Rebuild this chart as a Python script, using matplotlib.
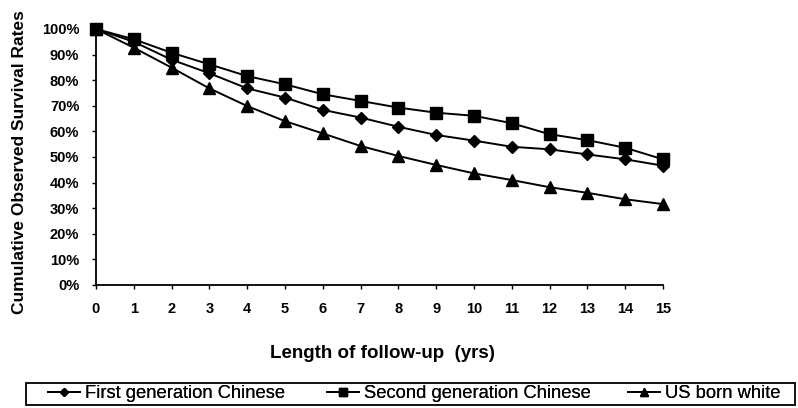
import matplotlib
matplotlib.use("Agg")
import matplotlib.pyplot as plt
from matplotlib.ticker import FuncFormatter
from matplotlib.patches import Rectangle

years = list(range(16))
first_gen = [100, 95, 88, 82.7, 76.8, 73.2, 68.4, 65.4, 61.8, 58.6, 56.4, 54.0, 53.0, 51.0, 49.1, 46.6]
second_gen = [100, 96, 90.7, 86.2, 81.6, 78.4, 74.5, 71.9, 69.3, 67.3, 66.1, 63.2, 58.9, 56.6, 53.6, 49.1]
us_white = [100, 92.7, 84.9, 76.8, 69.9, 64.0, 59.2, 54.3, 50.4, 46.9, 43.6, 41.0, 38.2, 36.0, 33.5, 31.6]
labels = ["First generation Chinese", "Second generation Chinese", "US born white"]

plt.rcParams['font.family'] = ['Liberation Sans', 'DejaVu Sans']

W, H = 798, 408
fig = plt.figure(figsize=(W/100, H/100), dpi=100)
ax = fig.add_axes([96/W, 1-285/H, (663-96)/W, 256/H])

l1, = ax.plot(years, first_gen, color='black', marker='D', markersize=6.5, lw=1.4, clip_on=False)
l2, = ax.plot(years, second_gen, color='black', marker='s', markersize=8, lw=1.4, clip_on=False)
l3, = ax.plot(years, us_white, color='black', marker='^', markersize=8, lw=1.4, clip_on=False)

ax.set_xlim(0, 15)
ax.set_ylim(0, 100)
ax.set_xticks(years)
ax.set_yticks(range(0, 101, 10))
ax.yaxis.set_major_formatter(FuncFormatter(lambda v, p: f"{int(v)}%"))
for s in ['top', 'right']:
    ax.spines[s].set_visible(False)
for s in ['left', 'bottom']:
    ax.spines[s].set_linewidth(1.3)
ax.tick_params(axis='both', direction='out', length=3, width=1, labelsize=10.5)
ax.tick_params(axis='x', pad=9)
ax.tick_params(axis='y', pad=9)
for t in ax.get_xticklabels() + ax.get_yticklabels():
    t.set_fontweight('bold')

fig.text(20/W, 1-162/H, "Cumulative Observed Survival Rates", rotation=90, ha='center', va='center',
         fontsize=12.5, fontweight='bold')
fig.text(382/W, 1-354/H, "Length of follow-up  (yrs)", ha='center', va='center',
         fontsize=13.5, fontweight='bold')

# legend frame
fig.patches.append(Rectangle((26/W, 1-405/H), (795-26)/W, 22/H, transform=fig.transFigure,
                             fill=False, edgecolor='black', linewidth=1.3))
starts = [48, 327, 628]
for line, lab, x0 in zip([l1, l2, l3], labels, starts):
    lg = fig.legend([line], [lab], loc='center left', bbox_to_anchor=(x0/W, 1-394/H),
                    frameon=False, fontsize=13.2, handlelength=1.75, handletextpad=0.28,
                    borderpad=0, borderaxespad=0, markerscale=0.7)
    fig.add_artist(lg)

fig.savefig("out.png", dpi=100)
